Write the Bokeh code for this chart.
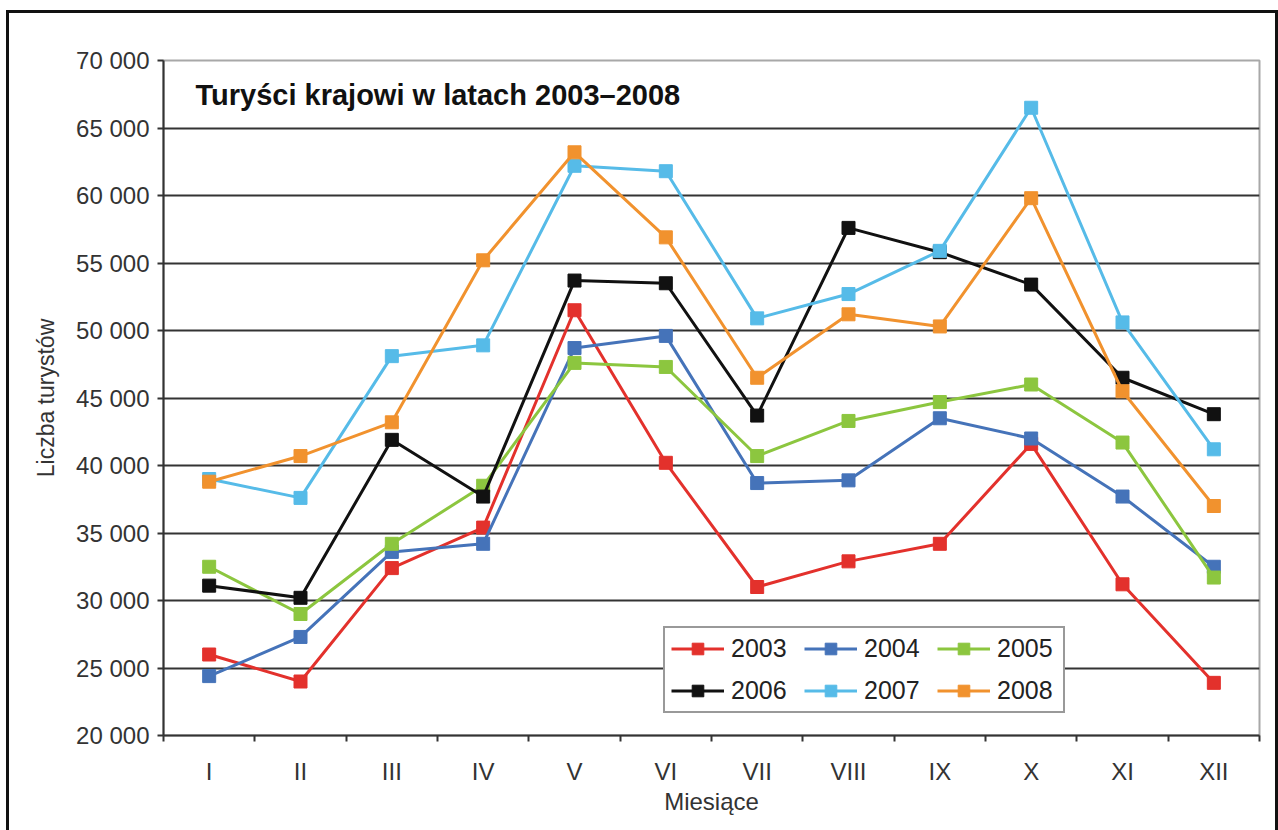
from bokeh.plotting import figure
from bokeh.models import Range1d, FixedTicker, Legend, LegendItem, Label
from bokeh.embed import file_html
from bokeh.resources import INLINE

months = ["I", "II", "III", "IV", "V", "VI", "VII", "VIII", "IX", "X", "XI", "XII"]
years = ["2003", "2004", "2005", "2006", "2007", "2008"]

v2003 = [26000, 24000, 32400, 35400, 51500, 40200, 31000, 32900, 34200, 41600, 31200, 23900]
v2004 = [24400, 27300, 33600, 34200, 48700, 49600, 38700, 38900, 43500, 42000, 37700, 32500]
v2005 = [32500, 29000, 34200, 38500, 47600, 47300, 40700, 43300, 44700, 46000, 41700, 31700]
v2006 = [31100, 30200, 41900, 37700, 53700, 53500, 43700, 57600, 55800, 53400, 46500, 43800]
v2007 = [39000, 37600, 48100, 48900, 62200, 61800, 50900, 52700, 55900, 66500, 50600, 41200]
v2008 = [38800, 40700, 43200, 55200, 63200, 56900, 46500, 51200, 50300, 59800, 45500, 37000]

series = [v2003, v2004, v2005, v2006, v2007, v2008]
colors = ["#e3312c", "#4573b9", "#8cc63f", "#111111", "#56bbe8", "#f1922e"]

y_ticks = [20000, 25000, 30000, 35000, 40000, 45000, 50000, 55000, 60000, 65000, 70000]
y_tick_labels = ["20 000", "25 000", "30 000", "35 000", "40 000", "45 000",
                 "50 000", "55 000", "60 000", "65 000", "70 000"]

title_text = "Turyści krajowi w latach 2003–2008"
x_title = "Miesiące"
y_title = "Liczba turystów"

FONT = "Liberation Sans"
TXT = "#333333"

x_pos = [i + 0.5 for i in range(len(months))]

p = figure(frame_width=1096, frame_height=675,
           min_border_left=154, min_border_right=16, min_border_top=47, min_border_bottom=95,
           x_range=Range1d(0, len(months)), y_range=Range1d(y_ticks[0], y_ticks[-1]),
           output_backend="svg", toolbar_location=None)

p.styles = {"margin-left": "6px", "margin-top": "10px",
            "border-top": "3px solid #111", "border-left": "3px solid #111",
            "border-right": "3px solid #111"}

p.background_fill_color = "white"
p.border_fill_color = "white"
p.outline_line_color = "#a8a8a8"
p.outline_line_width = 2

# grid
p.xgrid.grid_line_color = None
p.ygrid.ticker = FixedTicker(ticks=y_ticks)
p.ygrid.grid_line_color = "#333333"
p.ygrid.grid_line_width = 2

# y axis
yax = p.yaxis[0]
yax.ticker = FixedTicker(ticks=y_ticks)
yax.major_label_overrides = {t: l for t, l in zip(y_ticks, y_tick_labels)}
yax.axis_line_color = "#333333"
yax.axis_line_width = 2
yax.major_tick_line_color = "#333333"
yax.major_tick_line_width = 2
yax.major_tick_in = 0
yax.major_tick_out = 6
yax.minor_tick_line_color = None
yax.major_label_text_font = FONT
yax.major_label_text_font_size = "24px"
yax.major_label_text_color = TXT
yax.major_label_standoff = 8
yax.axis_label = y_title
yax.axis_label_text_font = FONT
yax.axis_label_text_font_size = "23px"
yax.axis_label_text_font_style = "normal"
yax.axis_label_text_color = TXT
yax.axis_label_standoff = 14

# x axis
xax = p.xaxis[0]
xax.ticker = FixedTicker(ticks=x_pos, minor_ticks=list(range(len(months) + 1)))
xax.major_label_overrides = {x: m for x, m in zip(x_pos, months)}
xax.axis_line_color = "#333333"
xax.axis_line_width = 2
xax.major_tick_line_color = None
xax.minor_tick_line_color = "#333333"
xax.minor_tick_line_width = 2
xax.minor_tick_in = 0
xax.minor_tick_out = 6
xax.major_label_text_font = FONT
xax.major_label_text_font_size = "24px"
xax.major_label_text_color = TXT
xax.major_label_standoff = 16
xax.axis_label = x_title
xax.axis_label_text_font = FONT
xax.axis_label_text_font_size = "24px"
xax.axis_label_text_font_style = "normal"
xax.axis_label_text_color = TXT
xax.axis_label_standoff = 0

items = []
for name, vals, c in zip(years, series, colors):
    lr = p.line(x_pos, vals, line_color=c, line_width=3)
    sr = p.scatter(x_pos, vals, marker="square", size=13, fill_color=c, line_color=c)
    items.append(LegendItem(label=name, renderers=[lr, sr]))

legend = Legend(items=items, location=(500, 22), orientation="horizontal", ncols=3,
                label_text_font=FONT, label_text_font_size="25px", label_text_color="#222222",
                glyph_width=53, glyph_height=29, label_height=29, label_width=60,
                label_standoff=7, spacing=13, padding=6, margin=0,
                border_line_color="#333333", border_line_width=2,
                background_fill_color="white", background_fill_alpha=1)
p.add_layout(legend)

p.add_layout(Label(x=0.35, y=67480, text=title_text, text_font=FONT, text_font_size="29px",
                   text_font_style="bold", text_color="#111111", text_baseline="middle"))

open("out.html", "w").write(file_html(p, INLINE))
